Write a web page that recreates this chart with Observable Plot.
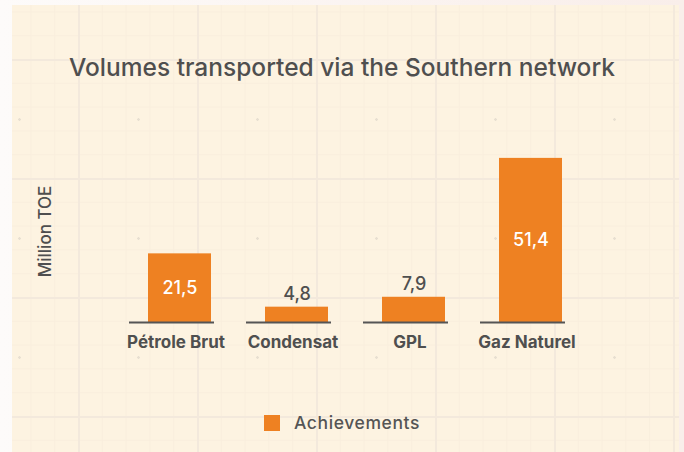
<!DOCTYPE html>
<html>
<head>
<meta charset="utf-8">
<script src="https://cdn.jsdelivr.net/npm/d3@7"></script>
<script src="https://cdn.jsdelivr.net/npm/@observablehq/plot@0.6"></script>
<style>
  html, body { margin: 0; padding: 0; }
  body { width: 684px; height: 452px; overflow: hidden; background: linear-gradient(to right, #fdfbfa 0px, #f9eeea 100%); font-family: Inter, "Noto Sans", sans-serif; position: relative; }
  #panel {
    position: absolute; left: 12px; top: 5px; width: 667px; height: 447px;
    background-color: #fdf3e1;
    background-image:
      radial-gradient(circle, #e8dfd1 1.1px, transparent 1.5px),
      linear-gradient(to right, #f3e9dc 2px, transparent 2px),
      linear-gradient(to bottom, #f3e9dc 2px, transparent 2px),
      linear-gradient(to right, #f9eedd 1px, transparent 1px),
      linear-gradient(to bottom, #f9eedd 1px, transparent 1px);
    background-size: 119px 119px, 119px 119px, 119px 119px, 23.8px 23.8px, 23.8px 23.8px;
    background-position: 67px 55px, 66px 0, 0 54px, 66px 0, 0 54px;
  }
  #title { position: absolute; left: 0; top: 52px; width: 684px; text-align: center; font-size: 24.5px; font-weight: 500; color: #4f4f4f; letter-spacing: 0px; line-height: 30px; }
  #chart { position: absolute; left: 0; top: 100px; }
  #legend { position: absolute; left: 0; top: 412px; width: 684px; display: flex; justify-content: center; align-items: center; font-size: 17.5px; font-weight: 500; color: #555; letter-spacing: 0.6px; }
  #legend .sw { width: 16px; height: 16px; background: #ee8122; margin-right: 14px; }
</style>
</head>
<body>
<div id="panel"></div>
<div id="title">Volumes transported via the Southern network</div>
<div id="chart"></div>
<div id="legend"><span class="sw"></span><span>Achievements</span></div>
<script>
const categories = ["Pétrole Brut", "Condensat", "GPL", "Gaz Naturel"];
const values = [21.5, 4.8, 7.9, 51.4];
const seriesName = "Achievements";
const yLabel = "Million TOE";

const data = categories.map((c, i) => ({cat: c, v: values[i]}));
const fmt = v => String(v).replace(".", ",");
const orange = "#ee8122";
const grey = "#555555";

const plot = Plot.plot({
  width: 684,
  height: 300,
  marginTop: 40,
  marginBottom: 78,
  marginLeft: 96,
  marginRight: 85,
  style: {background: "transparent", fontFamily: "Inter, 'Noto Sans', sans-serif", overflow: "visible"},
  x: {domain: categories, padding: 0.27, label: null},
  y: {domain: [0, 57], axis: null},
  marks: [
    Plot.barY(data, {x: "cat", y: "v", fill: orange, insetLeft: 19, insetRight: 3}),
    Plot.tickY(data, {x: "cat", y: 0, stroke: grey, strokeWidth: 2}),
    Plot.text(data.filter(d => d.v > 15), {x: "cat", y: d => d.v / 2, text: d => fmt(d.v), fill: "white", fontSize: 18, fontWeight: 500, dx: 8}),
    Plot.text(data.filter(d => d.v <= 15), {x: "cat", y: "v", text: d => fmt(d.v), fill: "#4f4f4f", fontSize: 18, fontWeight: 500, dx: 8, dy: -13}),
    Plot.axisX({tickSize: 0, tickPadding: 13, fontSize: 17, fontWeight: 700, fill: "#4f4f4f", label: null, dx: 4, letterSpacing: "0.5px"}),
    Plot.text([yLabel], {frameAnchor: "left", textAnchor: "middle", rotate: -90, dx: -51, fontSize: 17, fontWeight: 500, fill: "#4f4f4f"})
  ]
});
document.getElementById("chart").appendChild(plot);
</script>
</body>
</html>
